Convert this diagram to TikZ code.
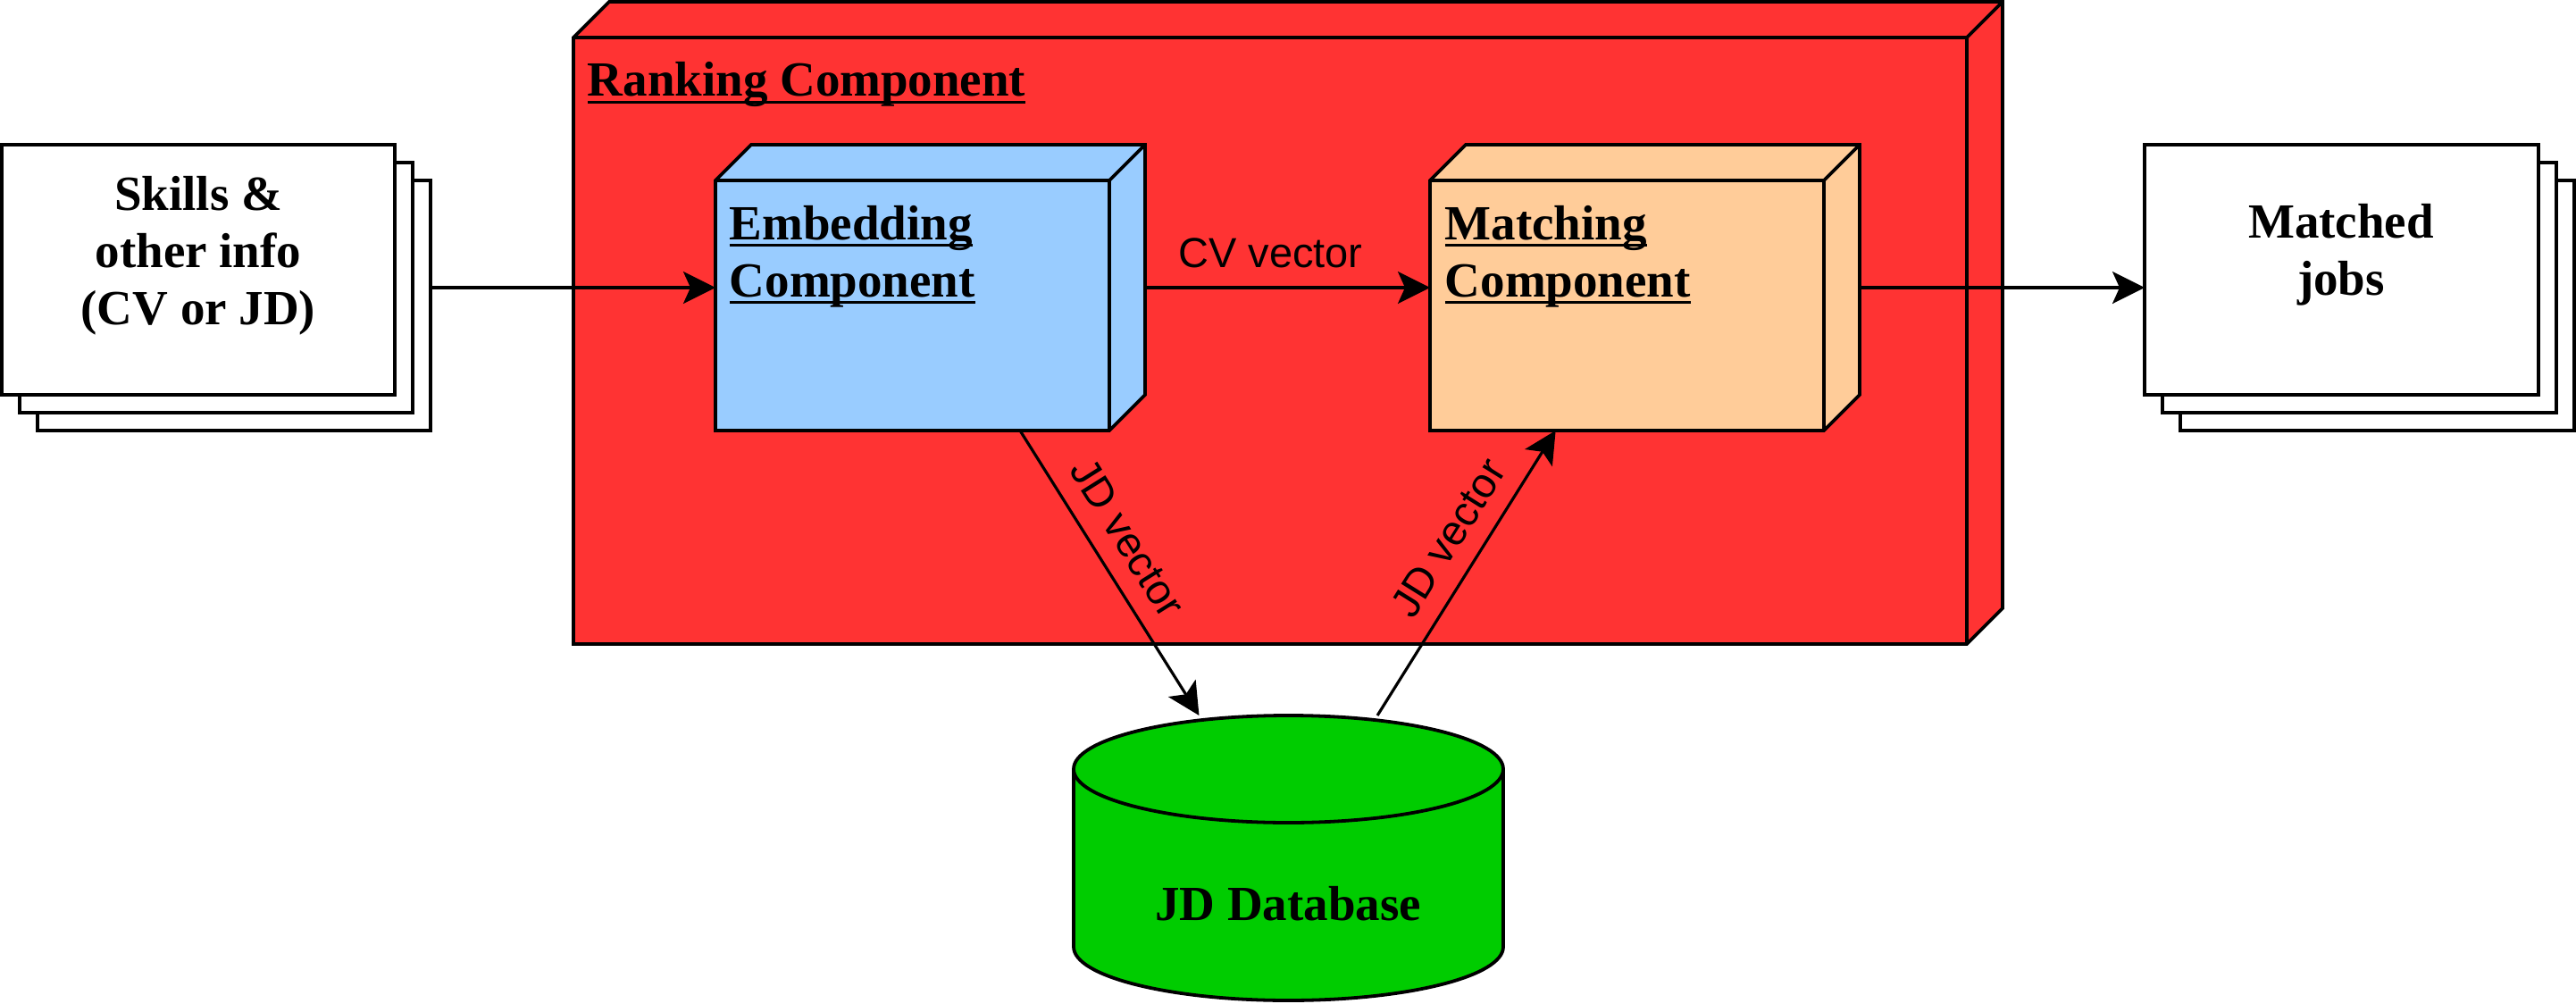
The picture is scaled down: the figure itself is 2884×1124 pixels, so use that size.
\documentclass[tikz,border=0pt]{standalone}
\usepackage{fontspec}
\setmainfont{Liberation Serif}
\setsansfont{Liberation Sans}
\usetikzlibrary{arrows.meta}

\newsavebox\boxsotto
\newcommand{\sotto}[1]{\sbox\boxsotto{#1}\rlap{\rule[-2.1pt]{\wd\boxsotto}{0.75pt}}\usebox\boxsotto}

\definecolor{rosso}{HTML}{FF3333}
\definecolor{azzurro}{HTML}{99CCFF}
\definecolor{pesca}{HTML}{FFCC99}
\definecolor{verde}{HTML}{00CC00}

\tikzset{
	bordo/.style={draw=black, line width=0.95pt, line join=miter},
	ingombro/.style 2 args={draw=none, inner sep=0pt, outer sep=0pt, minimum width=#1, minimum height=#2},
	titolo/.style={font=\bfseries\fontsize{13.75}{16}\selectfont, inner sep=0pt},
	freccia/.style={line width=0.8pt, -{Stealth[length=9pt, width=9pt, inset=2pt]}},
	etichetta/.style={font=\sffamily\fontsize{11.75}{14}\selectfont, inner sep=1pt}
}

\begin{document}
\begin{tikzpicture}[x=0.25pt, y=-0.25pt]
		\useasboundingbox (0,0) rectangle (2884,1124);
		
		% ingombri dei blocchi
		\node[ingombro={120pt}{80pt}] (inp) at (242,322) {};
		\node[ingombro={120.25pt}{80pt}] (emb) at (1041.5,322) {};
		\node[ingombro={120.25pt}{80pt}] (mat) at (1841.5,322) {};
		\node[ingombro={120.25pt}{80pt}] (out) at (2641.5,322) {};
		\node[ingombro={120.25pt}{79.75pt}] (db) at (1442.5,960.5) {};
		\node[ingombro={400pt}{179.75pt}] (rank) at (1442,361.5) {};
		
		% componente esterno
		\filldraw[bordo, fill=rosso] (642,42) -- (682,2) -- (2242,2) -- (2242,681) -- (2202,721) -- (642,721) -- cycle;
		\draw[bordo] (642,42) -- (2202,42) -- (2202,721) (2202,42) -- (2242,2);
		\node[titolo, anchor=base west] (tRank) at (657,108) {\sotto{Ranking Component}};
		
		% componenti interni
		\filldraw[bordo, fill=azzurro] (801,202) -- (841,162) -- (1282,162) -- (1282,442) -- (1242,482) -- (801,482) -- cycle;
		\draw[bordo] (801,202) -- (1242,202) -- (1242,482) (1242,202) -- (1282,162);
		\node[titolo, anchor=base west, align=left] (tEmb) at (816,332) {\sotto{Embedding}\\\sotto{Component}};
		
		\filldraw[bordo, fill=pesca] (1601,202) -- (1641,162) -- (2082,162) -- (2082,442) -- (2042,482) -- (1601,482) -- cycle;
		\draw[bordo] (1601,202) -- (2042,202) -- (2042,482) (2042,202) -- (2082,162);
		\node[titolo, anchor=base west, align=left] (tMat) at (1617,332) {\sotto{Matching}\\\sotto{Component}};
		
		% documenti
		\filldraw[bordo, fill=white] (42,202) rectangle (482,482);
		\filldraw[bordo, fill=white] (22,182) rectangle (462,462);
		\filldraw[bordo, fill=white] (2,162) rectangle (442,442);
		\node[titolo, anchor=base, align=center] (tInp) at (222,363) {Skills \&\\other info\\(CV or JD)};
		
		\filldraw[bordo, fill=white] (2441,202) rectangle (2882,482);
		\filldraw[bordo, fill=white] (2421,182) rectangle (2862,462);
		\filldraw[bordo, fill=white] (2401,162) rectangle (2842,442);
		\node[titolo, anchor=base, align=center] (tOut) at (2621,330) {Matched\\jobs};
		
		% database
		\filldraw[bordo, fill=verde] (1202,861) -- (1202,1060) arc[start angle=180, end angle=360, x radius=60.125pt, y radius=15pt] -- (1683,861) arc[start angle=0, end angle=180, x radius=60.125pt, y radius=15pt] -- cycle;
		\draw[bordo] (1202,861) arc[start angle=180, end angle=360, x radius=60.125pt, y radius=15pt];
		\node[titolo, anchor=base] (tDb) at (1442,1030) {JD Database};
		
		% frecce
		\draw[freccia] (inp) -- (emb);
		\draw[freccia] (emb) -- node[etichetta, pos=0.44, above=4pt] (lCv) {CV vector} (mat);
		\draw[freccia] (mat) -- (out);
		\draw[freccia] (emb) -- node[etichetta, sloped, pos=0.44, above=4pt] (lJd1) {JD vector} (db);
		\draw[freccia] (db) -- node[etichetta, sloped, pos=0.56, above=4pt] (lJd2) {JD vector} (mat);
		
	\end{tikzpicture}
\end{document}
